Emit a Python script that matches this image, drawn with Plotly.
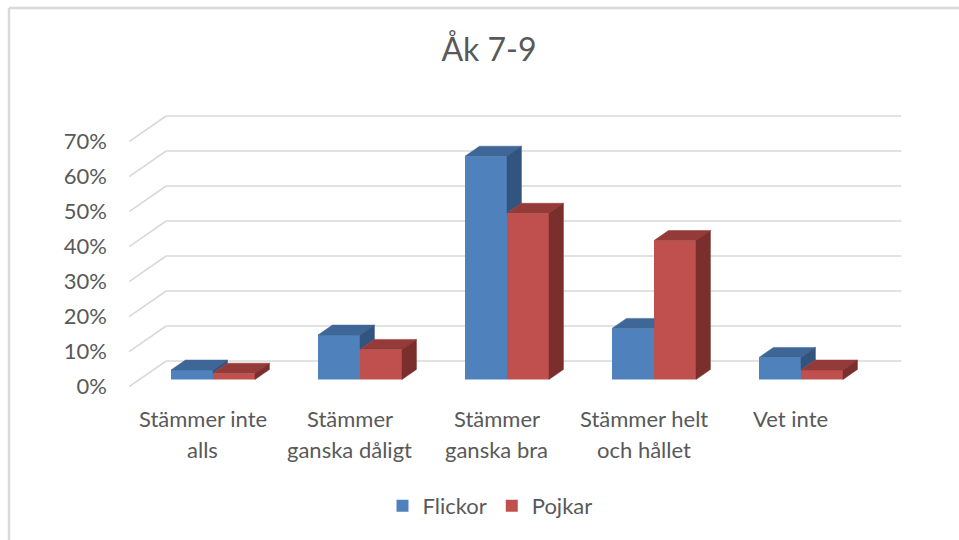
import plotly.graph_objects as go

# ---------------- data ----------------
title_text = "Åk 7-9"
categories = ["Stämmer inte alls", "Stämmer ganska dåligt", "Stämmer ganska bra",
              "Stämmer helt och hållet", "Vet inte"]
label_line1 = ["Stämmer inte", "Stämmer", "Stämmer", "Stämmer helt", "Vet inte"]
label_line2 = ["alls", "ganska dåligt", "ganska bra", "och hållet", ""]
series_names = ["Flickor", "Pojkar"]
flickor = [0.027, 0.127, 0.638, 0.146, 0.063]
pojkar = [0.018, 0.086, 0.475, 0.397, 0.027]
y_ticks = [0.0, 0.1, 0.2, 0.3, 0.4, 0.5, 0.6, 0.7]
y_ticktext = ["0%", "10%", "20%", "30%", "40%", "50%", "60%", "70%"]

# ---------------- styling / geometry ----------------
W, H = 959, 540
L, R, T, B = 120, 910, 100, 395          # plot area in pixels
PX0, SX = 213.0, 147.0                   # px of category 0, px per category (bar plane)
PY0, SY = 379.5, 350.0                   # px of value 0, px per unit value (bar plane)
xr = [(L - PX0) / SX, (R - PX0) / SX]
yr = [(PY0 - B) / SY, (PY0 - T) / SY]

DXd = 37.0 / SX      # oblique depth offset (full depth) in x data units
DYd = 25.7 / SY      # oblique depth offset (full depth) in y data units
DB = 0.28            # depth of bar front plane
BD = 0.39            # bar depth
BW = 0.2857          # single bar width
bdx, bdy = BD * DXd, BD * DYd

TXT = "#595959"
GRID = "#D9D9D9"
FONT = "Lato"
FS = 22
cols = {
    "Flickor": ("#4F81BD", "#3E6697", "#32547F"),
    "Pojkar": ("#C0504D", "#943A38", "#7A2F2D"),
}


def wall(x, v, d):
    return x + (d - DB) * DXd, v + (d - DB) * DYd


def px2paper(px, py):
    return (px - L) / (R - L), (B - py) / (B - T)


fig = go.Figure()

# front faces as real bars
for name, vals, off in [("Flickor", flickor, -BW), ("Pojkar", pojkar, 0.0)]:
    fig.add_trace(go.Bar(
        x=list(range(len(categories))), y=vals, width=BW, offset=off,
        name=name, marker=dict(color=cols[name][0], line=dict(width=0)),
        hovertext=categories,
    ))


def poly_trace(pts_list, color):
    xs, ys = [], []
    for pts in pts_list:
        for (px, py) in pts:
            xs.append(px)
            ys.append(py)
        xs.append(pts[0][0]); ys.append(pts[0][1])
        xs.append(None); ys.append(None)
    return go.Scatter(x=xs, y=ys, mode="lines", fill="toself", fillcolor=color,
                      line=dict(color=color, width=0.5), showlegend=False,
                      hoverinfo="skip")


f_top, f_side, p_top, p_side = [], [], [], []
for i, (fv, pv) in enumerate(zip(flickor, pojkar)):
    x0, x1, x2 = i - BW, i, i + BW
    if fv > pv:
        f_top.append([(x0, fv), (x1, fv), (x1 + bdx, fv + bdy), (x0 + bdx, fv + bdy)])
        f_side.append([(x1, pv), (x1, fv), (x1 + bdx, fv + bdy), (x1 + bdx, pv + bdy)])
    else:
        f_top.append([(x0, fv), (x1, fv), (x1, fv + bdy), (x0 + bdx, fv + bdy)])
    p_top.append([(x1, pv), (x2, pv), (x2 + bdx, pv + bdy), (x1 + bdx, pv + bdy)])
    p_side.append([(x2, 0), (x2, pv), (x2 + bdx, pv + bdy), (x2 + bdx, bdy)])

fig.add_trace(poly_trace(f_top, cols["Flickor"][1]))
fig.add_trace(poly_trace(f_side, cols["Flickor"][2]))
fig.add_trace(poly_trace(p_top, cols["Pojkar"][1]))
fig.add_trace(poly_trace(p_side, cols["Pojkar"][2]))

# gridlines on back wall and side wall
shapes = []
xl, xrt = -0.5, len(categories) - 0.5
for v in y_ticks:
    bx0, by0 = wall(xl, v, 1.0)
    bx1, by1 = wall(xrt, v, 1.0)
    fx0, fy0 = wall(xl, v, 0.0)
    shapes.append(dict(type="line", xref="x", yref="y", x0=bx0, y0=by0, x1=bx1, y1=by1,
                       line=dict(color=GRID, width=1.6), layer="below"))
    shapes.append(dict(type="line", xref="x", yref="y", x0=fx0, y0=fy0, x1=bx0, y1=by0,
                       line=dict(color=GRID, width=1.6), layer="below"))

# outer frame (top and left edges)
ax0, ay0 = px2paper(9, 8)
ax1, _ = px2paper(962, 8)
_, ay1 = px2paper(9, 545)
shapes.append(dict(type="line", xref="paper", yref="paper", x0=ax0, y0=ay0, x1=ax1, y1=ay0,
                   line=dict(color=GRID, width=2.5)))
shapes.append(dict(type="line", xref="paper", yref="paper", x0=ax0, y0=ay0, x1=ax0, y1=ay1,
                   line=dict(color=GRID, width=2.5)))

# category labels (front plane)
annotations = []
for i, (l1, l2) in enumerate(zip(label_line1, label_line2)):
    cx, _ = wall(i, 0, 0.0)
    for txt, py in [(l1, 418.0), (l2, 449.5)]:
        if txt:
            _, pyp = px2paper(0, py)
            annotations.append(dict(x=cx, y=pyp, xref="x", yref="paper",
                                    text=txt, showarrow=False, xanchor="center",
                                    yanchor="middle",
                                    font=dict(family=FONT, size=FS, color=TXT)))

lx, ly = px2paper(490, 506)
fig.update_layout(
    width=W, height=H,
    margin=dict(l=L, r=W - R, t=T, b=H - B, pad=0),
    paper_bgcolor="white", plot_bgcolor="white",
    title=dict(text=title_text, x=489 / W, xanchor="center", y=1 - 50 / H,
               yanchor="middle", font=dict(family=FONT, size=32, color=TXT)),
    barmode="overlay",
    xaxis=dict(range=xr, showgrid=False, zeroline=False, showline=False,
               showticklabels=False, ticks=""),
    yaxis=dict(range=yr, showgrid=False, zeroline=False, showline=False,
               tickvals=[v - DB * DYd for v in y_ticks], ticktext=y_ticktext,
               ticks="", ticklabelstandoff=12,
               tickfont=dict(family=FONT, size=FS, color=TXT)),
    legend=dict(orientation="h", x=lx, xanchor="center", y=ly, yanchor="middle",
                font=dict(family=FONT, size=FS, color=TXT), itemwidth=30,
                bgcolor="rgba(0,0,0,0)"),
    shapes=shapes,
    annotations=annotations,
    showlegend=True,
)

fig.write_html("out.html", config={"displayModeBar": False},
               post_script="document.body.style.margin='0px';")
